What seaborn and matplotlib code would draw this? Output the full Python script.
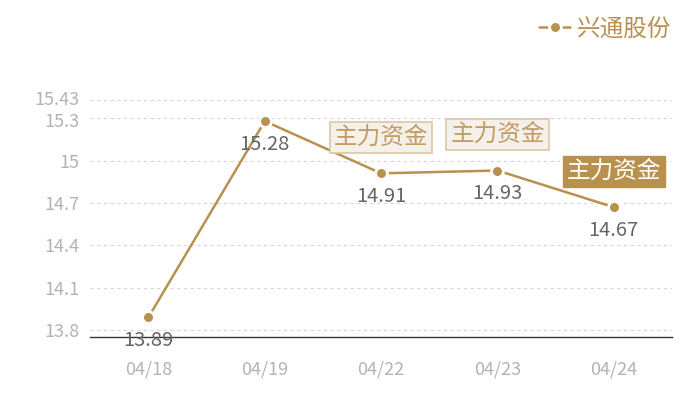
import matplotlib
matplotlib.use("Agg")
import matplotlib.pyplot as plt
import matplotlib.transforms as mtrans
import seaborn as sns
import pandas as pd

# data
dates = ["04/18", "04/19", "04/22", "04/23", "04/24"]
prices = [13.89, 15.28, 14.91, 14.93, 14.67]
yticks = [13.8, 14.1, 14.4, 14.7, 15, 15.3, 15.43]
series_name = "兴通股份"
flag_text = "主力资金"
flag_dates = ["04/22", "04/23", "04/24"]
flag_dark = [False, False, True]

gold = "#b8914f"

sns.set_theme(style="white")
plt.rcParams['font.family'] = ['Noto Sans CJK SC', 'DejaVu Sans']

df = pd.DataFrame({"date": dates, "price": prices})

fig = plt.figure(figsize=(7, 4), dpi=100)
ax = fig.add_axes([0.129, 0.1575, 0.831, 0.5925])

sns.lineplot(data=df, x="date", y="price", ax=ax, color=gold, lw=1.8,
             marker="o", markersize=8.5, markeredgecolor="white",
             markeredgewidth=2, label=series_name, sort=False)

ax.set_xlim(-0.5, len(dates) - 0.5)
ax.set_ylim(13.75, 15.43)
ax.set_yticks(yticks)
ax.set_yticklabels([f"{v:g}" for v in yticks])
ax.tick_params(axis="both", length=0, labelsize=13, colors="#b3b3b3")
ax.tick_params(axis="x", pad=17)
ax.tick_params(axis="y", pad=8)
ax.set_xlabel("")
ax.set_ylabel("")
ax.yaxis.grid(True, ls=(0, (3, 3)), color="#d6d6d6", lw=0.8)
ax.xaxis.grid(False)
for s in ["top", "right", "left"]:
    ax.spines[s].set_visible(False)
ax.spines["bottom"].set_color("#333333")
ax.spines["bottom"].set_linewidth(1)

# the two top tick labels sit very close; nudge them apart a little
labels = ax.get_yticklabels()
labels[-1].set_transform(labels[-1].get_transform() +
                         mtrans.ScaledTranslation(0, 2 / 100, fig.dpi_scale_trans))
labels[-2].set_transform(labels[-2].get_transform() +
                         mtrans.ScaledTranslation(0, -2 / 100, fig.dpi_scale_trans))

# value labels under points
for i, v in enumerate(prices):
    ax.annotate(f"{v:.2f}", (i, v), xytext=(0, -23), textcoords="offset pixels",
                ha="center", va="center", fontsize=14.5, color="#666666")

# 主力资金 flags
for d, dark in zip(flag_dates, flag_dark):
    i = dates.index(d)
    if dark:
        box = dict(boxstyle="square,pad=0.17", fc=gold, ec=gold)
        tc = "white"
    else:
        box = dict(boxstyle="square,pad=0.17", fc="#f4f0ea", ec="#dcc7a6", lw=1.2)
        tc = "#c29c62"
    ax.annotate(flag_text, (i, prices[i]), xytext=(0, 36), textcoords="offset pixels",
                ha="center", va="center", fontsize=17, color=tc, bbox=box)

leg = ax.legend(loc="upper right", bbox_to_anchor=(0.99, 1.01),
                bbox_transform=fig.transFigure, frameon=False, fontsize=17,
                handlelength=1.3, handletextpad=0.3, labelcolor=gold)

fig.savefig("out.png", dpi=100)
